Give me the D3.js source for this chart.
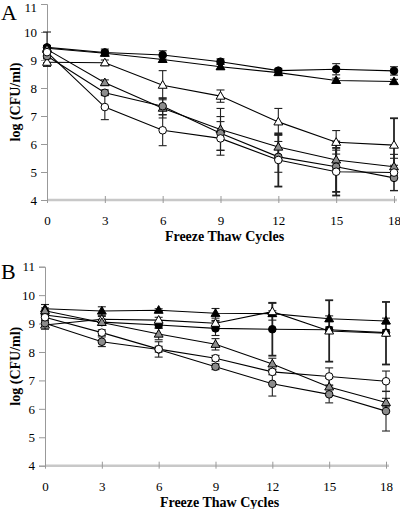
<!DOCTYPE html>
<html><head><meta charset="utf-8">
<script src="https://cdn.jsdelivr.net/npm/d3@7"></script>
<style>body{margin:0;background:#fff}svg{display:block}</style>
</head><body>
<svg id="c" width="400" height="509"></svg>
<script>
const cycles = [0, 3, 6, 9, 12, 15, 18];
const yTicks = [4, 5, 6, 7, 8, 9, 10, 11];
const xTickLabels = ["0", "3", "6", "9", "12", "15", "18"];
const seriesNames = ["blackCircle", "blackTri", "openTri", "grayTri", "grayCircle", "openCircle"];

// Panel A
const aBlackCircle = [9.45, 9.27, 9.18, 8.94, 8.62, 8.67, 8.61];
const aBlackTri    = [9.42, 9.24, 9.02, 8.76, 8.55, 8.27, 8.23];
const aOpenTri     = [8.92, 8.90, 8.10, 7.71, 6.79, 6.06, 5.96];
const aGrayTri     = [9.38, 8.19, 7.28, 6.52, 5.89, 5.43, 5.19];
const aGrayCircle  = [9.14, 7.83, 7.35, 6.38, 5.54, 5.19, 4.79];
const aOpenCircle  = [9.28, 7.32, 6.49, 6.20, 5.43, 5.01, 4.98];
const aBlackCircleErr = [0.55, 0.12, 0.15, 0.10, 0.08, 0.20, 0.15];
const aBlackTriErr    = [0.10, 0.08, 0.10, 0.10, 0.10, 0.08, 0.08];
const aOpenTriErr     = [0.15, 0.10, 0.52, 0.22, 0.48, 0.42, 0.96];
const aGrayTriErr     = [0.10, 0.10, 0.35, 0.75, 0.45, 0.35, 0.30];
const aGrayCircleErr  = [0.10, 0.10, 0.30, 0.60, 0.55, 0.90, 0.45];
const aOpenCircleErr  = [0.10, 0.45, 0.55, 0.60, 0.95, 0.85, 0.65];

// Panel B
const bBlackCircle = [9.30, 9.05, 8.95, 8.83, 8.80, 8.78, 8.68];
const bBlackTri    = [9.52, 9.44, 9.47, 9.36, 9.35, 9.17, 9.09];
const bOpenTri     = [8.95, 9.15, 9.12, 9.01, 9.42, 8.74, 8.66];
const bGrayTri     = [9.45, 9.04, 8.63, 8.27, 7.58, 6.77, 6.22];
const bGrayCircle  = [9.01, 8.36, 8.09, 7.48, 6.88, 6.51, 5.92];
const bOpenCircle  = [9.22, 8.68, 8.10, 7.78, 7.30, 7.14, 6.97];
const bBlackCircleErr = [0.10, 0.10, 0.10, 0.25, 0.93, 0.10, 0.10];
const bBlackTriErr    = [0.15, 0.15, 0.05, 0.17, 0.10, 0.10, 0.10];
const bOpenTriErr     = [0.15, 0.10, 0.10, 0.10, 0.30, 1.08, 1.10];
const bGrayTriErr     = [0.10, 0.10, 0.20, 0.20, 0.20, 0.30, 0.15];
const bGrayCircleErr  = [0.15, 0.17, 0.27, 0.10, 0.43, 0.30, 0.70];
const bOpenCircleErr  = [0.10, 0.10, 0.10, 0.10, 0.10, 0.30, 0.36];

const styles = {
  blackCircle: {shape: "circle", fill: "#000"},
  blackTri:    {shape: "tri", fill: "#000"},
  openTri:     {shape: "tri", fill: "#fff"},
  grayTri:     {shape: "tri", fill: "#8c8c8c"},
  grayCircle:  {shape: "circle", fill: "#8c8c8c"},
  openCircle:  {shape: "circle", fill: "#fff"}
};

const svg = d3.select("#c");
const FONT = "'Liberation Serif', 'Times New Roman', serif";

function panel(cfg) {
  const x = d3.scaleLinear().domain([0, 18]).range([cfg.x0, cfg.x1]);
  const y = d3.scaleLinear().domain([4, 11]).range([cfg.yb, cfg.yt]);
  const g = svg.append("g");

  // y axis
  const ya = g.append("g").attr("transform", `translate(${cfg.x0},0)`)
    .call(d3.axisLeft(y).tickValues(yTicks).tickSize(6).tickPadding(4).tickFormat(d3.format("d")));
  ya.select(".domain").attr("stroke", "#999");
  ya.selectAll(".tick line").attr("stroke", "#999");
  ya.selectAll("text").attr("font-family", FONT).attr("font-size", 13).attr("fill", "#000")
    .filter(d => d === 11 && cfg.yt < 10).attr("y", 3);

  // x axis
  const xa = g.append("g").attr("transform", `translate(0,${cfg.yb})`)
    .call(d3.axisBottom(x).tickValues(cycles).tickSize(4).tickPadding(12).tickFormat((d, i) => xTickLabels[i]));
  xa.select(".domain").remove();
  xa.insert("line", ":first-child").attr("x1", cfg.x0).attr("x2", cfg.x1 + 3)
    .attr("y1", 0).attr("y2", 0).attr("stroke", "#c8c8c8").attr("stroke-width", 2.5);
  xa.selectAll(".tick line").attr("stroke", "#999").attr("y1", -4).attr("y2", 3);
  xa.selectAll("text").attr("font-family", FONT).attr("font-size", 13).attr("fill", "#000");

  // titles
  g.append("text").attr("x", (cfg.x0 + cfg.x1) / 2 + 4).attr("y", cfg.yb + 41)
    .attr("text-anchor", "middle").attr("font-family", FONT).attr("font-weight", "bold")
    .attr("font-size", 14).text("Freeze Thaw Cycles");
  g.append("text").attr("transform", `translate(20,${(cfg.yt + cfg.yb) / 2}) rotate(-90)`)
    .attr("text-anchor", "middle").attr("font-family", FONT).attr("font-weight", "bold")
    .attr("font-size", 14).text("log (CFU/ml)");
  g.append("text").attr("x", 1).attr("y", cfg.yt + cfg.letterDy).attr("font-family", FONT)
    .attr("font-size", 22).text(cfg.letter);

  const line = d3.line().x((d, i) => x(cycles[i])).y(d => y(d));
  cfg.series.forEach(s => {
    g.append("path").datum(s.values).attr("d", line).attr("fill", "none")
      .attr("stroke", "#000").attr("stroke-width", 1.1);
  });
  cfg.series.forEach(s => {
    s.values.forEach((v, i) => {
      const e = s.err[i];
      const cx = x(cycles[i]);
      const eg = g.append("g").attr("stroke", "#222").attr("stroke-width", e > 0.8 ? 1.8 : 1.1);
      eg.append("line").attr("x1", cx).attr("x2", cx).attr("y1", y(v - e)).attr("y2", y(v + e));
      [v - e, v + e].forEach(t => eg.append("line").attr("x1", cx - 4).attr("x2", cx + 4)
        .attr("y1", y(t)).attr("y2", y(t)));
    });
  });
  cfg.series.forEach(s => {
    const st = styles[s.name];
    s.values.forEach((v, i) => {
      const cx = x(cycles[i]), cy = y(v);
      if (st.shape === "circle") {
        g.append("circle").attr("cx", cx).attr("cy", cy).attr("r", 3.8)
          .attr("fill", st.fill).attr("stroke", "#000").attr("stroke-width", 1);
      } else {
        g.append("path").attr("d", d3.symbol(d3.symbolTriangle, 34)())
          .attr("transform", `translate(${cx},${cy + 0.5})`)
          .attr("fill", st.fill).attr("stroke", "#000").attr("stroke-width", 1);
      }
    });
  });
}

panel({
  x0: 47, x1: 394, yb: 200, yt: 4, letter: "A", letterDy: 16,
  series: [
    {name: "blackCircle", values: aBlackCircle, err: aBlackCircleErr},
    {name: "blackTri", values: aBlackTri, err: aBlackTriErr},
    {name: "openTri", values: aOpenTri, err: aOpenTriErr},
    {name: "grayTri", values: aGrayTri, err: aGrayTriErr},
    {name: "grayCircle", values: aGrayCircle, err: aGrayCircleErr},
    {name: "openCircle", values: aOpenCircle, err: aOpenCircleErr}
  ]
});
panel({
  x0: 45, x1: 386, yb: 465.7, yt: 266.7, letter: "B", letterDy: 12,
  series: [
    {name: "blackCircle", values: bBlackCircle, err: bBlackCircleErr},
    {name: "blackTri", values: bBlackTri, err: bBlackTriErr},
    {name: "openTri", values: bOpenTri, err: bOpenTriErr},
    {name: "grayTri", values: bGrayTri, err: bGrayTriErr},
    {name: "grayCircle", values: bGrayCircle, err: bGrayCircleErr},
    {name: "openCircle", values: bOpenCircle, err: bOpenCircleErr}
  ]
});
</script>
</body></html>
